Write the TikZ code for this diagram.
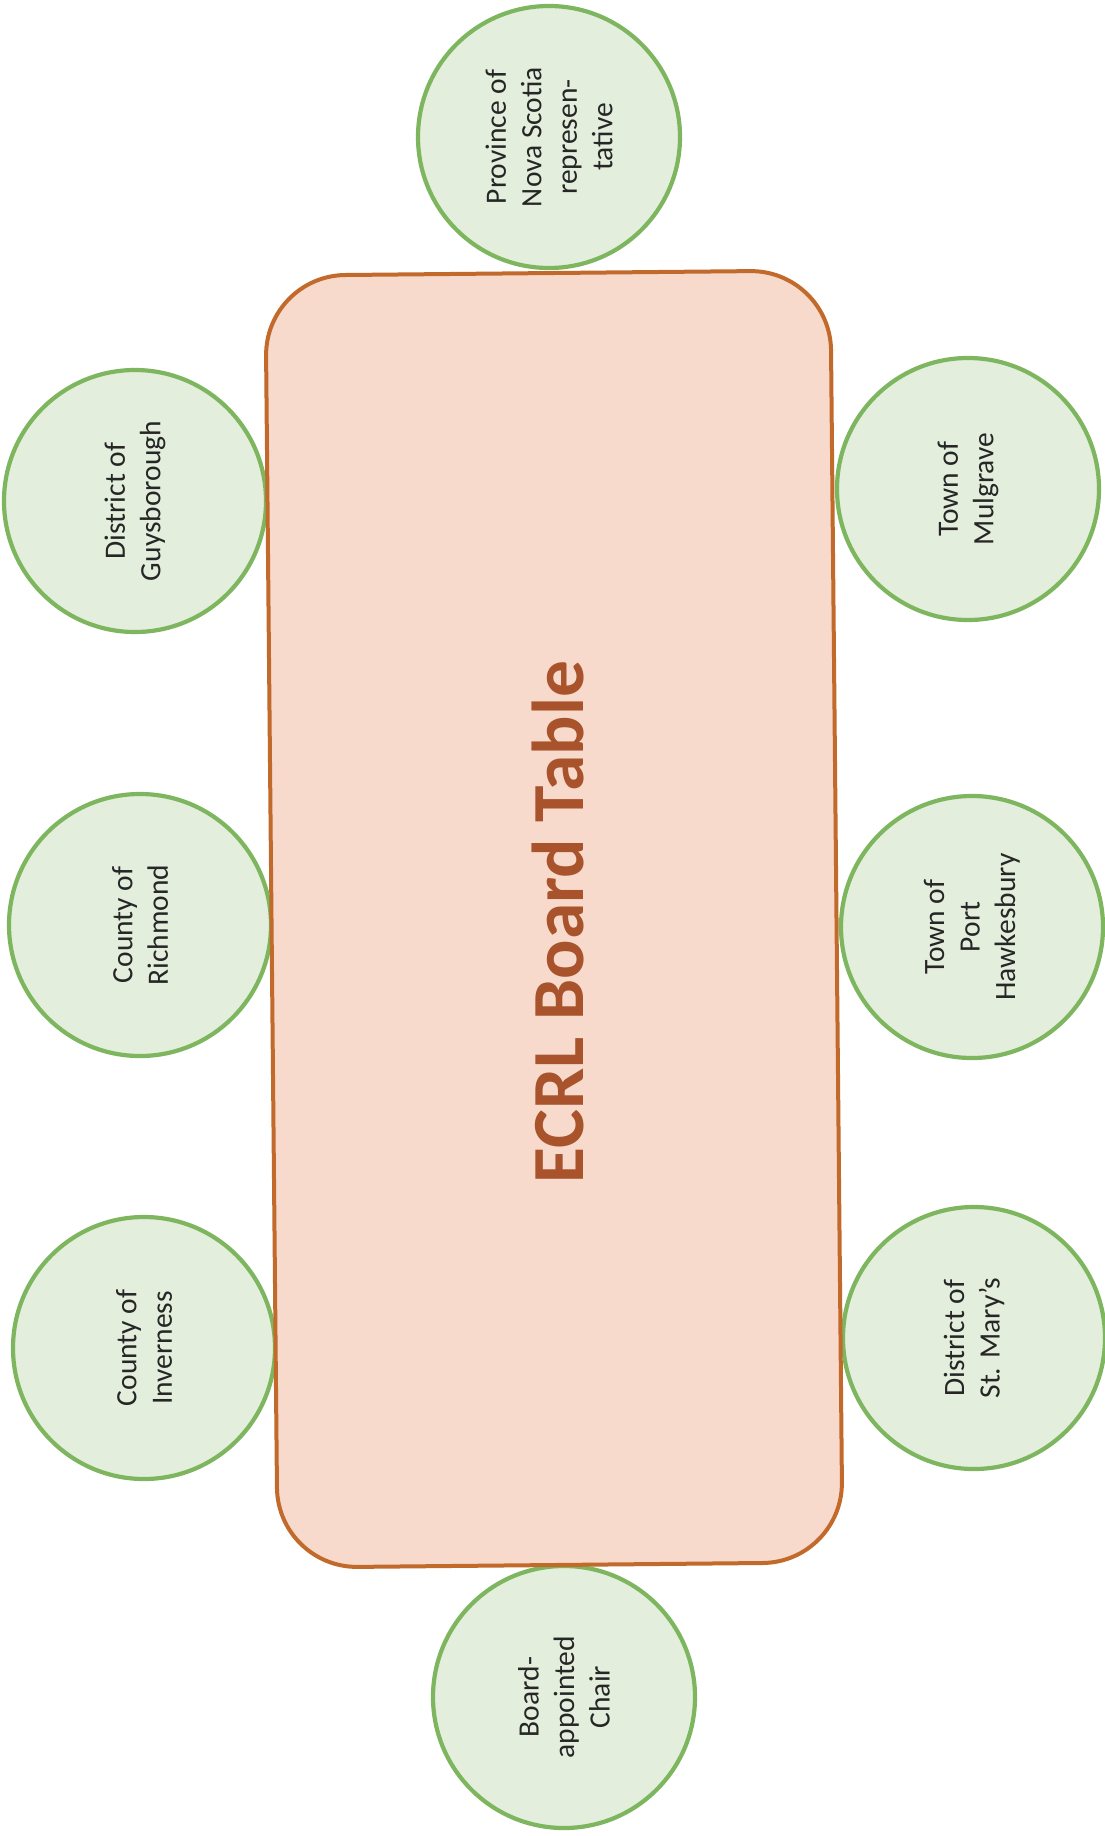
\documentclass[tikz,border=0pt]{standalone}
\usepackage{fontspec}
\setmainfont{Carlito}
\definecolor{seatfill}{HTML}{E3EEDD}
\definecolor{seatline}{HTML}{7DB65E}
\definecolor{tablefill}{HTML}{F8DACC}
\definecolor{tableline}{HTML}{C2692C}
\definecolor{titlecol}{HTML}{A8532B}
\definecolor{seattext}{HTML}{262626}
\begin{document}
\begin{tikzpicture}[x=1pt,y=-1pt,
  seat/.style={circle, draw=seatline, fill=seatfill, line width=4.2pt,
    minimum size=262pt, inner sep=0pt, align=center,
    font=\fontsize{29.5}{35.5}\selectfont, text=seattext, rotate=90},
  boardtable/.style={rectangle, rounded corners=80pt, draw=tableline,
    fill=tablefill, line width=4pt, minimum width=565pt,
    minimum height=1292pt, rotate=0.55, inner sep=0pt},
  tabletitle/.style={rotate=90, anchor=base, text=titlecol,
    font=\fontsize{73.5}{80}\selectfont\bfseries, inner sep=0pt}]
\useasboundingbox (0,0) rectangle (1105,1836);
\fill[white] (0,0) rectangle (1105,1836);
% seats
\node[seat] (prov)  at (549,137)  {Province of\\Nova Scotia\\represen-\\tative};
\node[seat] (guys)  at (135,501)  {District of\\Guysborough};
\node[seat] (rich)  at (140,925)  {County of\\Richmond};
\node[seat] (inv)   at (144,1348) {County of\\Inverness};
\node[seat] (chair) at (564,1697) {Board-\\appointed\\Chair};
\node[seat] (mulg)  at (968,489)  {Town of\\Mulgrave};
\node[seat] (port)  at (972,927)  {Town of\\Port\\Hawkesbury};
\node[seat] (stm)   at (974,1338) {District of\\St. Mary’s};
% table
\node[boardtable] (table) at (554,919) {};
\node[tabletitle] (title) at (583,922) {ECRL Board Table};
\end{tikzpicture}
\end{document}
